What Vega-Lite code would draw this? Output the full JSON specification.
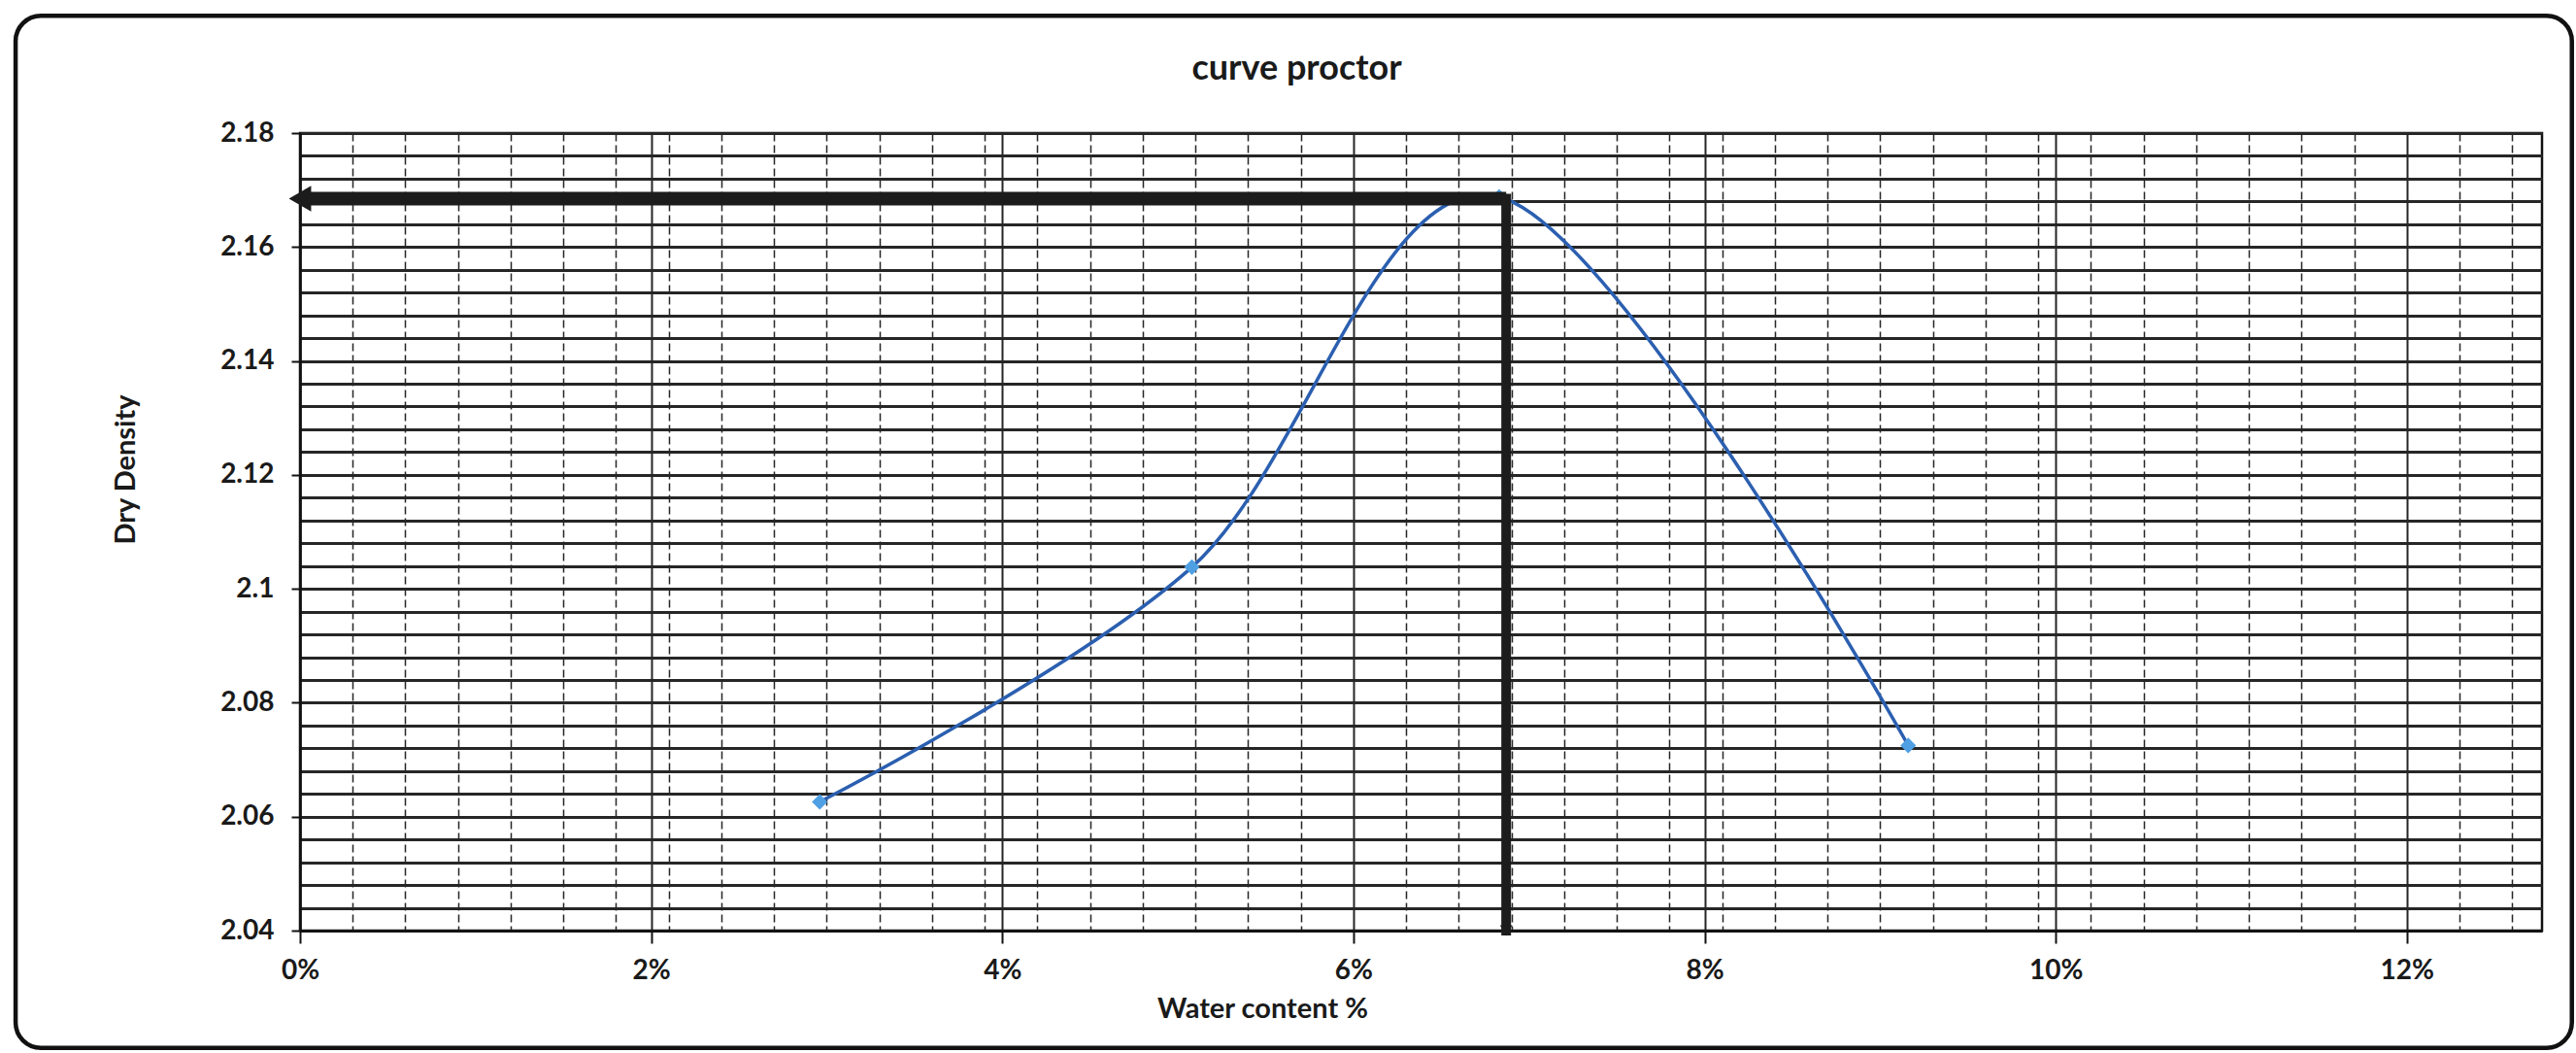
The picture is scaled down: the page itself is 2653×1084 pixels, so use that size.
{
  "$schema": "https://vega.github.io/schema/vega-lite/v6.json",
  "autosize": {"type": "none"},
  "width": 2309,
  "height": 821,
  "padding": {"left": 309, "top": 137, "right": 35, "bottom": 126},
  "background": "white",
  "title": {
    "text": "curve proctor",
    "font": "Lato",
    "fontSize": 36,
    "fontWeight": "bold",
    "color": "#1a1a1a",
    "anchor": "middle",
    "frame": "group",
    "dx": -128,
    "dy": 104,
    "baseline": "alphabetic",
    "offset": 0
  },
  "datasets": {
    "points": [
      {"w": 0.0296, "dd": 2.0626},
      {"w": 0.0508, "dd": 2.1038},
      {"w": 0.0683, "dd": 2.1688},
      {"w": 0.0916, "dd": 2.0725}
    ],
    "optimum": [
      {"w0": 0, "omc": 0.0687, "dd0": 2.04, "mdd": 2.1685}
    ]
  },
  "config": {
    "view": {"stroke": "#111111", "strokeWidth": 2.5}
  },
  "resolve": {"axis": {"y": "independent"}},
  "layer": [
    {
      "layer": [
        {
          "data": {"name": "points"},
          "mark": {"type": "line", "interpolate": "cardinal", "color": "#2B5FB0", "strokeWidth": 3.5},
          "encoding": {
            "x": {
              "field": "w",
              "type": "quantitative",
              "scale": {"domain": [0, 0.1277], "nice": false, "zero": false},
              "axis": {
                "title": "Water content %",
                "values": [0, 0.003, 0.006, 0.009, 0.012, 0.015, 0.018, 0.02, 0.021, 0.024, 0.027, 0.03, 0.033, 0.036, 0.039, 0.04, 0.042, 0.045, 0.048, 0.051, 0.054, 0.057, 0.06, 0.063, 0.066, 0.069, 0.072, 0.075, 0.078, 0.08, 0.081, 0.084, 0.087, 0.09, 0.093, 0.096, 0.099, 0.1, 0.102, 0.105, 0.108, 0.111, 0.114, 0.117, 0.12, 0.123, 0.126],
                "format": ".0%",
                "labelExpr": "abs(datum.value*50 - round(datum.value*50)) < 0.000001 ? datum.label : ''",
                "labelFont": "Lato",
                "labelFontSize": {"condition": {"test": "abs(datum.value*50 - round(datum.value*50)) < 0.000001", "value": 28}, "value": 1},
                "labelFontWeight": "bold",
                "labelColor": "#1a1a1a",
                "labelPadding": 14,
                "labelOverlap": false,
                "labelFlush": false,
                "labelBound": false,
                "tickSize": 13,
                "tickColor": "#111111",
                "tickWidth": 2,
                "tickOpacity": {"condition": {"test": "abs(datum.value*50 - round(datum.value*50)) < 0.000001", "value": 1}, "value": 0},
                "grid": true,
                "gridColor": "#262626",
                "gridOpacity": 1,
                "gridWidth": {"condition": {"test": "abs(datum.value*50 - round(datum.value*50)) < 0.000001", "value": 2}, "value": 1.5},
                "gridDash": {"condition": {"test": "abs(datum.value*50 - round(datum.value*50)) < 0.000001", "value": []}, "value": [8, 4]},
                "domain": true,
                "domainColor": "#111111",
                "domainWidth": 2.5,
                "titleFont": "Lato",
                "titleFontSize": 29,
                "titleFontWeight": "bold",
                "titleColor": "#1a1a1a",
                "titleX": 991,
                "titleY": 80,
                "titleAlign": "center",
                "titleBaseline": "middle"
              }
            },
            "y": {
              "field": "dd",
              "type": "quantitative",
              "scale": {"domain": [2.04, 2.18], "nice": false, "zero": false},
              "axis": {
                "title": "Dry Density",
                "values": [2.04, 2.06, 2.08, 2.1, 2.12, 2.14, 2.16, 2.18],
                "format": ".2~f",
                "labelFont": "Lato",
                "labelFontSize": 28,
                "labelFontWeight": "bold",
                "labelColor": "#1a1a1a",
                "labelPadding": 18,
                "labelOverlap": false,
                "labelFlush": false,
                "labelBound": false,
                "tickSize": 9,
                "tickColor": "#111111",
                "tickWidth": 2,
                "grid": true,
                "gridColor": "#262626",
                "gridOpacity": 1,
                "gridWidth": 2.8,
                "domain": true,
                "domainColor": "#111111",
                "domainWidth": 2.5,
                "titleFont": "Lato",
                "titleFontSize": 29,
                "titleFontWeight": "bold",
                "titleColor": "#1a1a1a",
                "titleX": -180,
                "titleY": 346,
                "titleAngle": -90,
                "titleAlign": "center",
                "titleBaseline": "middle"
              }
            }
          }
        },
        {
          "data": {"name": "points"},
          "mark": {"type": "point", "shape": "diamond", "filled": true, "color": "#4F9FE3", "size": 260, "opacity": 1},
          "encoding": {
            "x": {"field": "w", "type": "quantitative"},
            "y": {"field": "dd", "type": "quantitative"}
          }
        },
        {
          "data": {"name": "optimum"},
          "mark": {"type": "rule", "color": "#1c1c1c", "strokeWidth": 14, "strokeCap": "butt"},
          "encoding": {
            "x": {"field": "w0", "type": "quantitative"},
            "x2": {"field": "omc"},
            "y": {"field": "mdd", "type": "quantitative"}
          }
        },
        {
          "data": {"name": "optimum"},
          "mark": {"type": "rule", "color": "#1c1c1c", "strokeWidth": 10, "strokeCap": "square"},
          "encoding": {
            "x": {"field": "omc", "type": "quantitative"},
            "y": {"field": "mdd", "type": "quantitative"},
            "y2": {"field": "dd0"}
          }
        },
        {
          "data": {"name": "optimum"},
          "mark": {"type": "point", "shape": "triangle-left", "filled": true, "color": "#1c1c1c", "size": 700, "opacity": 1},
          "encoding": {
            "x": {"field": "w0", "type": "quantitative"},
            "y": {"field": "mdd", "type": "quantitative"}
          }
        },
        {
          "data": {"values": [{}]},
          "mark": {"type": "rect", "fill": "transparent", "stroke": "#111111", "strokeWidth": 4.5, "cornerRadius": 26},
          "encoding": {
            "x": {"datum": -0.0162, "type": "quantitative"},
            "x2": {"datum": 0.1294},
            "y": {"datum": 2.2006, "type": "quantitative"},
            "y2": {"datum": 2.0194}
          }
        }
      ]
    },
    {
      "data": {"name": "optimum"},
      "mark": {"type": "point", "shape": "triangle-down", "filled": true, "color": "#1c1c1c", "size": 160, "opacity": 1},
      "encoding": {
        "x": {"field": "omc", "type": "quantitative"},
        "y": {
          "field": "dd0",
          "type": "quantitative",
          "axis": {
            "orient": "left",
            "title": null,
            "values": [2.044, 2.048, 2.052, 2.056, 2.064, 2.068, 2.072, 2.076, 2.084, 2.088, 2.092, 2.096, 2.104, 2.108, 2.112, 2.116, 2.124, 2.128, 2.132, 2.136, 2.144, 2.148, 2.152, 2.156, 2.164, 2.168, 2.172, 2.176],
            "labels": false,
            "ticks": false,
            "domain": false,
            "grid": true,
            "gridColor": "#262626",
            "gridOpacity": 1,
            "gridWidth": 2.8
          }
        }
      }
    }
  ]
}
